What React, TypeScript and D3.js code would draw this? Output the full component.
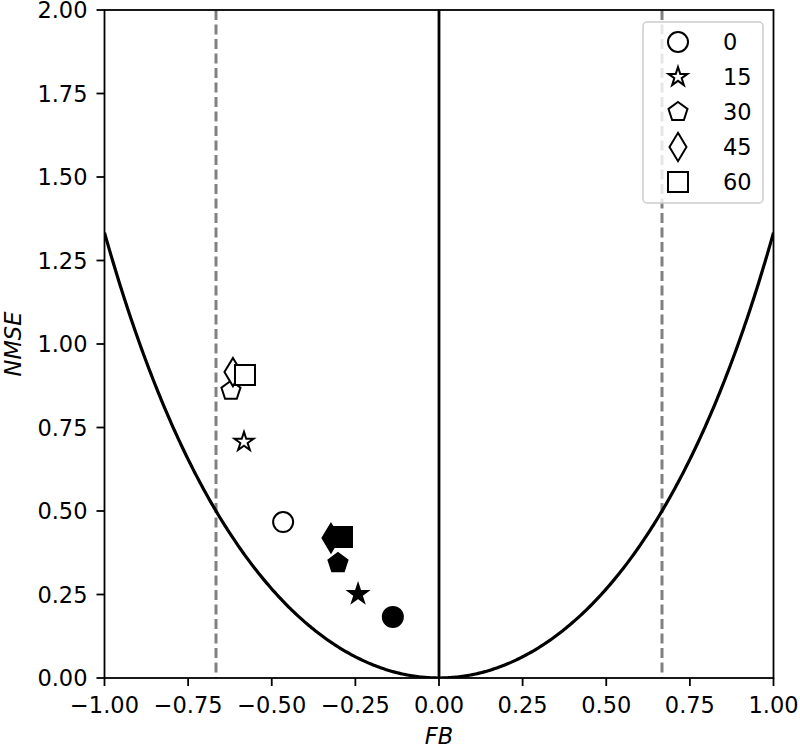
import React from "react";
import * as d3 from "d3";

const angles = ["0", "15", "30", "45", "60"];
const markerTypes = ["circle", "star", "pentagon", "thinDiamond", "square"];
const openFB = [-0.466, -0.583, -0.622, -0.616, -0.58];
const openNMSE = [0.467, 0.707, 0.86, 0.916, 0.907];
const filledFB = [-0.138, -0.242, -0.302, -0.323, -0.29];
const filledNMSE = [0.183, 0.251, 0.344, 0.419, 0.422];
const xTicks = [-1, -0.75, -0.5, -0.25, 0, 0.25, 0.5, 0.75, 1];
const yTicks = [0, 0.25, 0.5, 0.75, 1, 1.25, 1.5, 1.75, 2];
const factor2FB = [-2 / 3, 2 / 3];

const W = 800, H = 746;
const M = { left: 104.5, right: 773.5, top: 10, bottom: 678 };
const FONT = "DejaVu Sans, sans-serif";

function markerPath(type: string, s: number): string {
  const r = s / 2;
  if (type === "circle") {
    return `M${r},0A${r},${r} 0 1,1 ${-r},0A${r},${r} 0 1,1 ${r},0Z`;
  }
  if (type === "square") {
    return `M${-r},${-r}L${r},${-r}L${r},${r}L${-r},${r}Z`;
  }
  if (type === "thinDiamond") {
    const h = r * Math.SQRT2;
    const w = h * 0.6;
    return `M0,${-h}L${w},0L0,${h}L${-w},0Z`;
  }
  if (type === "pentagon") {
    const pts = d3.range(5).map((i) => {
      const a = -Math.PI / 2 + (i * 2 * Math.PI) / 5;
      return [r * Math.cos(a), r * Math.sin(a)];
    });
    return "M" + pts.map((p) => p.join(",")).join("L") + "Z";
  }
  const inner = r * 0.381966;
  const pts = d3.range(10).map((i) => {
    const a = -Math.PI / 2 + (i * Math.PI) / 5;
    const rr = i % 2 === 0 ? r : inner;
    return [rr * Math.cos(a), rr * Math.sin(a)];
  });
  return "M" + pts.map((p) => p.join(",")).join("L") + "Z";
}

export default function App() {
  const x = d3.scaleLinear().domain([-1, 1]).range([M.left, M.right]);
  const y = d3.scaleLinear().domain([0, 2]).range([M.bottom, M.top]);
  const curveFB = d3.range(-1, 1.0001, 0.005);
  const line = d3
    .line<number>()
    .x((d) => x(d))
    .y((d) => y((4 * d * d) / (4 - d * d)));
  const ms = 20;
  const fs = 22.5;

  return (
    <svg
      width={W}
      height={H}
      style={{ position: "absolute", left: 0, top: 0, background: "#fff" }}
      fontFamily={FONT}
    >
      <defs>
        <clipPath id="plotclip">
          <rect x={M.left} y={M.top} width={M.right - M.left} height={M.bottom - M.top} />
        </clipPath>
      </defs>
      <rect x={0} y={0} width={W} height={H} fill="#fff" />
      <g clipPath="url(#plotclip)">
        {factor2FB.map((v, i) => (
          <line
            key={i}
            x1={x(v)}
            x2={x(v)}
            y1={M.top}
            y2={M.bottom}
            stroke="#808080"
            strokeWidth={3}
            strokeDasharray="10,4.5"
          />
        ))}
        <line x1={x(0)} x2={x(0)} y1={M.top} y2={M.bottom} stroke="#000" strokeWidth={2.8} />
        <path d={line(curveFB) || ""} fill="none" stroke="#000" strokeWidth={3.2} />
      </g>
      {markerTypes.map((t, i) => (
        <path
          key={"o" + i}
          d={markerPath(t, ms)}
          transform={`translate(${x(openFB[i])},${y(openNMSE[i])})`}
          fill="#fff"
          stroke="#000"
          strokeWidth={2}
        />
      ))}
      {markerTypes.map((t, i) => (
        <path
          key={"f" + i}
          d={markerPath(t, ms)}
          transform={`translate(${x(filledFB[i])},${y(filledNMSE[i])})`}
          fill="#000"
          stroke="#000"
          strokeWidth={2}
        />
      ))}
      <rect
        x={M.left}
        y={M.top}
        width={M.right - M.left}
        height={M.bottom - M.top}
        fill="none"
        stroke="#000"
        strokeWidth={1.8}
      />
      {xTicks.map((t, i) => (
        <g key={"xt" + i}>
          <line x1={x(t)} x2={x(t)} y1={M.bottom} y2={M.bottom + 8} stroke="#000" strokeWidth={1.8} />
          <text x={x(t)} y={M.bottom + 35} textAnchor="middle" fontSize={fs} fill="#000">
            {d3.format(".2f")(t).replace("-", "\u2212")}
          </text>
        </g>
      ))}
      {yTicks.map((t, i) => (
        <g key={"yt" + i}>
          <line x1={M.left - 8} x2={M.left} y1={y(t)} y2={y(t)} stroke="#000" strokeWidth={1.8} />
          <text x={M.left - 17} y={y(t)} dy="0.36em" textAnchor="end" fontSize={fs} fill="#000">
            {d3.format(".2f")(t)}
          </text>
        </g>
      ))}
      <text x={x(0)} y={744} textAnchor="middle" fontSize={fs} fontStyle="italic" fill="#000">
        FB
      </text>
      <text
        transform={`translate(20.5,${(M.top + M.bottom) / 2}) rotate(-90)`}
        textAnchor="middle"
        fontSize={fs}
        fontStyle="italic"
        fill="#000"
      >
        NMSE
      </text>
      <rect
        x={643}
        y={22}
        width={120}
        height={181}
        rx={4}
        fill="#fff"
        fillOpacity={0.8}
        stroke="#cccccc"
        strokeWidth={1.5}
      />
      {markerTypes.map((t, i) => (
        <g key={"lg" + i} transform={`translate(0,${42 + i * 35})`}>
          <path d={markerPath(t, ms)} transform="translate(678,0)" fill="#fff" stroke="#000" strokeWidth={2} />
          <text x={723} y={0} dy="0.36em" fontSize={fs} fill="#000">
            {angles[i]}
          </text>
        </g>
      ))}
    </svg>
  );
}
